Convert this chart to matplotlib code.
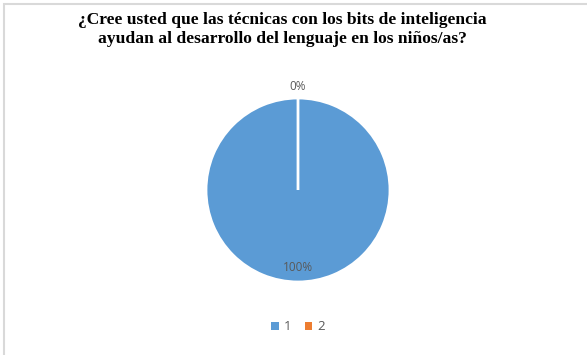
import matplotlib.pyplot as plt
import numpy as np
from matplotlib.patches import Rectangle

categorias = ['1', '2']
valores = [100, 0]
colores = ['#5B9BD5', '#ED7D31']
titulo = '¿Cree usted que las técnicas con los bits de inteligencia\nayudan al desarrollo del lenguaje en los niños/as?'

fig = plt.figure(figsize=(5.87, 3.55), dpi=100)

# marco gris claro
fig.patches.append(Rectangle((4 / 587, -0.01), 1.2, 1 - 4 / 355 + 0.01, transform=fig.transFigure,
                             fill=False, edgecolor='#d9d9d9', linewidth=1.5))

fig.text(282 / 587, 1 - 29.5 / 355, titulo, ha='center', va='center', fontsize=12.6,
         fontweight='bold', family='Liberation Serif', linespacing=1.2, color='#000000')

ax = fig.add_axes([(298 - 92) / 587, (355 - 282) / 355, 184 / 587, 184 / 355])
wedges, textos = ax.pie(valores, colors=colores, startangle=90, counterclock=False,
                        wedgeprops=dict(edgecolor='white', linewidth=2))

# etiquetas de porcentaje
total = sum(valores)
dist = [0.84, 1.13]
for w, v, d in zip(wedges, valores, dist):
    ang = np.deg2rad((w.theta1 + w.theta2) / 2)
    if v == 0:
        ang = np.deg2rad(w.theta1)
    ax.text(d * np.cos(ang), d * np.sin(ang), f'{v / total:.0%}', ha='center', va='center',
            fontsize=8.5, color='#595959', family='Open Sans')
ax.set_xlim(-1, 1)
ax.set_ylim(-1, 1)
ax.set_aspect('equal')

leg = fig.legend(wedges, categorias, loc='center', bbox_to_anchor=(298 / 587, 1 - 327 / 355),
                 ncol=2, frameon=False, handlelength=0.6, handleheight=0.6, handletextpad=0.4,
                 columnspacing=1.0, prop={'family': 'Open Sans', 'size': 9.5})
for t in leg.get_texts():
    t.set_color('#595959')
for h in leg.legend_handles:
    h.set_edgecolor('none')

fig.savefig('out.png', dpi=100)
